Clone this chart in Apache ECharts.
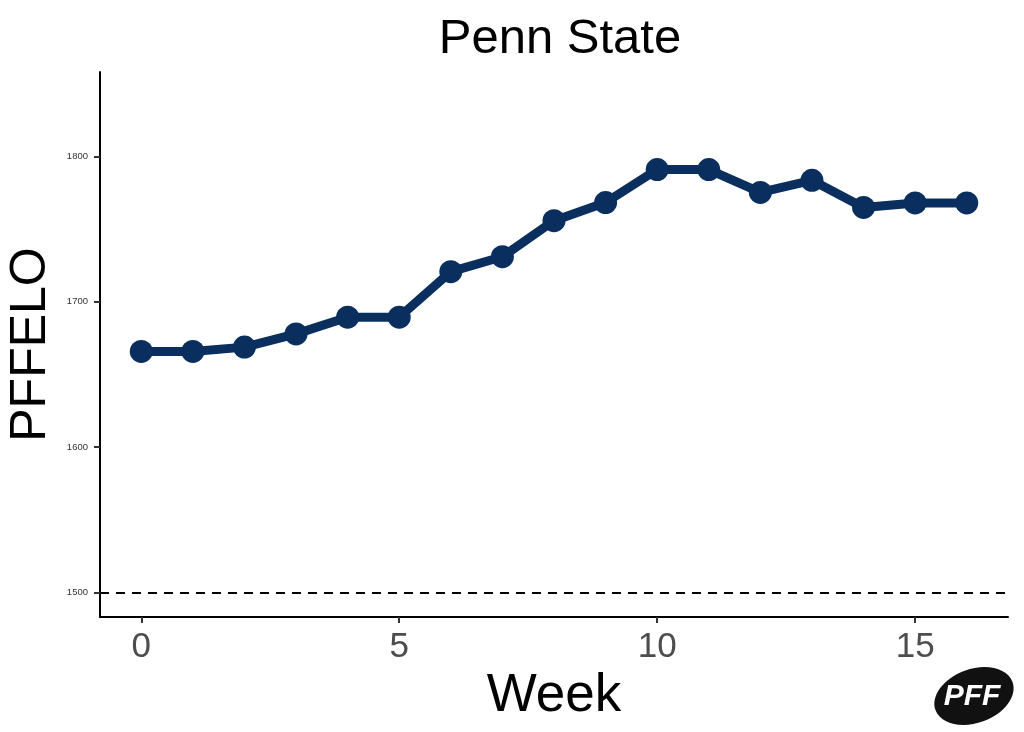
<!DOCTYPE html>
<html>
<head>
<meta charset="utf-8">
<script src="https://cdn.jsdelivr.net/npm/echarts@6/dist/echarts.min.js"></script>
<style>
  html, body { margin: 0; padding: 0; background: #fff; }
  #main { width: 1024px; height: 732px; }
</style>
</head>
<body>
<div id="main"></div>
<script>
// weekly PFFELO for Penn State
var weeks = [0, 1, 2, 3, 4, 5, 6, 7, 8, 9, 10, 11, 12, 13, 14, 15, 16]
var elo = [1665.7, 1665.7, 1668.7, 1677.8, 1689.3, 1689.3, 1720.6, 1730.9, 1755.7,
  1768.2, 1790.9, 1790.9, 1775.1, 1783.5, 1764.8, 1767.9, 1767.9]
var xTicks = [0, 5, 10, 15]
var yTicks = [1500, 1600, 1700, 1800]
var baseline = 1500

var font = '"Liberation Sans", Arial, sans-serif'
var navy = '#0a2f5f'

var myChart = echarts.init(document.getElementById('main'))
myChart.setOption({
  animation: false,
  title: {
    text: 'Penn State',
    left: 555,
    textAlign: 'center',
    top: 10,
    textStyle: { fontFamily: font, fontSize: 49, fontWeight: 'normal', color: '#000' }
  },
  grid: { left: 100, right: 16, top: 72, bottom: 115, outerBoundsMode: 'none', containLabel: false },
  xAxis: {
    type: 'value',
    min: -0.8,
    max: 16.8,
    name: 'Week',
    nameLocation: 'middle',
    nameGap: 52,
    nameTextStyle: { fontFamily: font, fontSize: 53, color: '#000' },
    axisLine: { onZero: false, lineStyle: { color: '#000', width: 2 } },
    axisTick: { customValues: xTicks, length: 6, lineStyle: { color: '#333', width: 2 } },
    axisLabel: { customValues: xTicks, fontFamily: font, fontSize: 35, color: '#4d4d4d', margin: 13 },
    splitLine: { show: false }
  },
  yAxis: {
    type: 'value',
    min: 1483,
    max: 1858,
    name: 'PFFELO',
    nameLocation: 'middle',
    nameGap: 44,
    nameTextStyle: { fontFamily: font, fontSize: 50, color: '#000' },
    axisLine: { show: true, onZero: false, lineStyle: { color: '#000', width: 2 } },
    axisTick: { show: true, customValues: yTicks, length: 6, lineStyle: { color: '#333', width: 2 } },
    axisLabel: {
      customValues: yTicks,
      formatter: function (v) { return String(v) },
      fontFamily: font, fontSize: 9.5, color: '#333', margin: 12
    },
    splitLine: { show: false }
  },
  series: [{
    type: 'line',
    data: weeks.map(function (w, i) { return [w, elo[i]] }),
    symbol: 'circle',
    symbolSize: 23,
    lineStyle: { color: navy, width: 9 },
    itemStyle: { color: navy },
    markLine: {
      silent: true,
      symbol: 'none',
      label: { show: false },
      lineStyle: { color: '#000', type: [9, 7], width: 2 },
      data: [{ yAxis: baseline }]
    }
  }],
  graphic: [{
    type: 'ellipse',
    shape: { cx: 0, cy: 0, rx: 41, ry: 27 },
    x: 974,
    y: 696,
    rotation: 0.35,
    style: { fill: '#111' }
  }, {
    type: 'text',
    x: 972,
    y: 697,
    style: {
      text: 'PFF',
      fill: '#fff',
      fontFamily: font,
      fontSize: 30,
      fontWeight: 'bold',
      fontStyle: 'italic',
      align: 'center',
      verticalAlign: 'middle'
    }
  }]
})
</script>
</body>
</html>
